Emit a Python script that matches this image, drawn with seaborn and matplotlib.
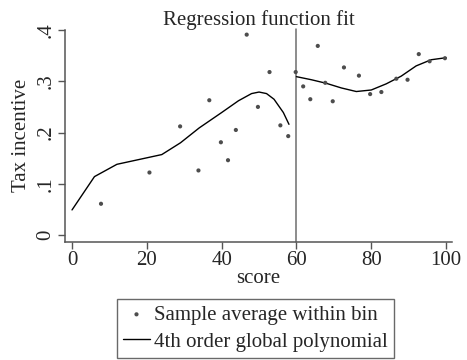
import matplotlib
matplotlib.use("Agg")
import matplotlib.pyplot as plt
import seaborn as sns
import pandas as pd

# Binned sample averages
bin_x = [7.75, 20.7, 28.9, 33.8, 36.7, 39.8, 41.7, 43.8, 46.7, 49.7, 52.8, 55.7, 57.8,
         59.8, 61.8, 63.7, 65.7, 67.7, 69.7, 72.7, 76.7, 79.7, 82.7, 86.7, 89.7, 92.7, 95.6, 99.7]
bin_y = [0.061, 0.122, 0.212, 0.126, 0.263, 0.181, 0.146, 0.205, 0.391, 0.250, 0.318, 0.214, 0.193,
         0.318, 0.290, 0.265, 0.369, 0.297, 0.261, 0.327, 0.311, 0.275, 0.279, 0.305, 0.303, 0.353, 0.339, 0.345]

# Fitted polynomial (left and right of cutoff)
left_x = [0, 6, 12, 24, 29, 34, 40, 44.5, 48, 50, 52, 54, 56.5, 58]
left_y = [0.049, 0.114, 0.138, 0.157, 0.180, 0.209, 0.239, 0.262, 0.276, 0.279, 0.276, 0.265, 0.239, 0.216]
right_x = [60, 64, 68, 72, 76, 80, 84, 88, 92, 96, 100]
right_y = [0.309, 0.303, 0.296, 0.287, 0.280, 0.283, 0.295, 0.310, 0.330, 0.342, 0.346]

cutoff = 60
x_ticks = [0, 20, 40, 60, 80, 100]
y_ticks = [0, 0.1, 0.2, 0.3, 0.4]
y_ticklabels = ["0", ".1", ".2", ".3", ".4"]

sns.set_style("white")
plt.rcParams["font.family"] = ["Liberation Serif", "DejaVu Serif"]

fig = plt.figure(figsize=(4.67, 3.6), dpi=100)
ax = fig.add_axes([0.139, 0.3286, 0.829, 0.588])

pts = pd.DataFrame({"score": bin_x, "tax": bin_y})
left = pd.DataFrame({"score": left_x, "tax": left_y})
right = pd.DataFrame({"score": right_x, "tax": right_y})

sns.scatterplot(data=pts, x="score", y="tax", ax=ax, color="#4d4d4d", s=9,
                edgecolor="none", label="Sample average within bin", zorder=3)
sns.lineplot(data=left, x="score", y="tax", ax=ax, color="black", linewidth=1.0,
             label="4th order global polynomial", zorder=2)
sns.lineplot(data=right, x="score", y="tax", ax=ax, color="black", linewidth=1.0, zorder=2)
ax.axvline(cutoff, color="#6e6e6e", linewidth=1.1, ymax=1.005, clip_on=False, zorder=1)

ax.set_xlim(-1.9, 101.6)
ax.set_ylim(-0.013, 0.4)
ax.set_xticks(x_ticks)
ax.set_xticklabels([str(t) for t in x_ticks], fontsize=15)
ax.set_yticks(y_ticks)
ax.set_yticklabels(y_ticklabels, fontsize=15, rotation=90, va="center")
ax.tick_params(axis="both", direction="out", length=5, width=1, color="#555555", pad=2)
ax.tick_params(axis="both", which="both", bottom=True, left=True)

for s in ["top", "right"]:
    ax.spines[s].set_visible(False)
for s in ["left", "bottom"]:
    ax.spines[s].set_color("#555555")
    ax.spines[s].set_linewidth(1.1)

ax.set_xlabel("score", fontsize=15, labelpad=-1)
ax.set_ylabel("Tax incentive", fontsize=15, labelpad=4)
ax.set_title("Regression function fit", fontsize=15, pad=2)

h, l = ax.get_legend_handles_labels()
ax.get_legend().remove()
leg = fig.legend(h, l, loc="lower center", bbox_to_anchor=(0.547, 0.0), ncol=1,
                 fontsize=15, frameon=True, fancybox=False, edgecolor="#444444",
                 handlelength=1.3, handletextpad=0.2, borderpad=0.3, labelspacing=0.35,
                 borderaxespad=0.1, markerscale=1.0)
leg.get_frame().set_linewidth(1.0)

fig.savefig("out.png", dpi=100)
